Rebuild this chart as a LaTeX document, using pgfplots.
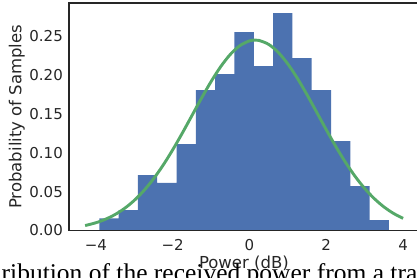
\documentclass[border=0pt]{standalone}
\usepackage{pgfplots}
\pgfplotsset{compat=1.18}
\usepackage{fontspec}
\setmainfont{DejaVu Sans}
\newfontfamily\capfont{Liberation Serif}
\definecolor{sbblue}{HTML}{4C72B0}
\definecolor{sbgreen}{HTML}{55A868}
\definecolor{spine}{HTML}{262626}
\begin{document}
\begin{tikzpicture}[x=1pt,y=1pt]
\useasboundingbox (0,0) rectangle (417,278);
\clip (0,0) rectangle (417,278);
\begin{axis}[
  at={(69pt,47.5pt)}, anchor=south west,
  scale only axis, width=349.8pt, height=227.5pt,
  xmin=-4.70, xmax=4.41, ymin=0, ymax=0.2927,
  axis on top,
  axis line style={draw=spine, line width=1.1pt},
  major tick length=0pt,
  xtick={-4,-2,0,2,4}, xticklabels={−4,−2,0,2,4},
  ytick={0,0.05,0.1,0.15,0.2,0.25}, yticklabels={0.00,0.05,0.10,0.15,0.20,0.25},
  tick label style={font=\fontsize{15}{18}\selectfont, text=spine},
  xticklabel style={anchor=north, inner sep=0pt, yshift=-8.5pt},
  yticklabel style={anchor=east, inner sep=0pt, xshift=-6pt},
  xlabel={Power (dB)}, ylabel={Probability of Samples},
  label style={font=\fontsize{16.5}{20}\selectfont, text=spine},
  xlabel style={at={(axis description cs:0.5,-0.1429)}, anchor=center},
  ylabel style={at={(axis description cs:-0.1495,0.5)}, anchor=center},
]
\addplot[const plot, fill=sbblue, draw=none] coordinates {
(-3.911,0.0157) (-3.408,0.0263) (-2.905,0.0713) (-2.402,0.0614) (-1.899,0.1112)
(-1.397,0.1806) (-0.894,0.2012) (-0.391,0.2551) (0.112,0.2114) (0.615,0.2796)
(1.118,0.2217) (1.621,0.1806) (2.124,0.1150) (2.627,0.0572) (3.130,0.0135)
(3.633,0.0135)} \closedcycle;
\addplot[smooth, sbgreen, line width=2.9pt] coordinates {
(-4.28,0.00638) (-4.0,0.00997) (-3.75,0.01449) (-3.5,0.02058) (-3.25,0.02856)
(-3.0,0.03873) (-2.75,0.05132) (-2.5,0.06641) (-2.25,0.08397) (-2.0,0.10375)
(-1.75,0.12523) (-1.5,0.14770) (-1.25,0.17018) (-1.0,0.19160) (-0.75,0.21075)
(-0.5,0.22650) (-0.25,0.23782) (0.0,0.24398) (0.15,0.24500) (0.25,0.24454)
(0.5,0.23948) (0.75,0.22914) (1.0,0.21421) (1.25,0.19565) (1.5,0.17460)
(1.75,0.15222) (2.0,0.12968) (2.25,0.10793) (2.5,0.08776) (2.75,0.06972)
(3.0,0.05412) (3.25,0.04105) (3.5,0.03042) (3.75,0.02202) (4.0,0.01558)};
\end{axis}
\node[anchor=base west, inner sep=0pt, font=\capfont\fontsize{25.5}{30}\selectfont] at (1.5,-3.5) {ribution of the received power from a transmitter};
\end{tikzpicture}
\end{document}
